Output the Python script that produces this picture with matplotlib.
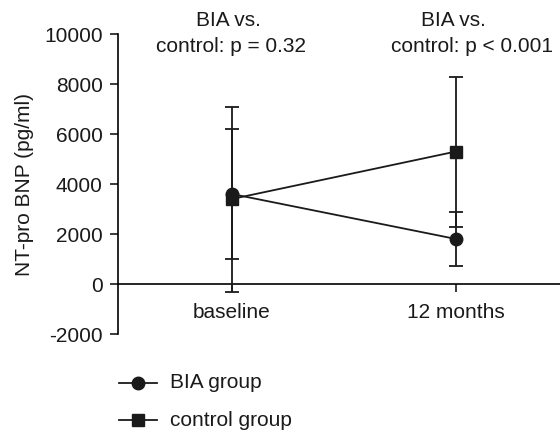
import matplotlib
matplotlib.use("Agg")
import matplotlib.pyplot as plt
from matplotlib.lines import Line2D

plt.rcParams['font.family'] = ['Liberation Sans', 'DejaVu Sans']

timepoints = ["baseline", "12 months"]
bia_mean = [3600, 1800]
bia_err = [2600, 1070]
control_mean = [3400, 5300]
control_err = [3700, 3000]
y_ticks = [-2000, 0, 2000, 4000, 6000, 8000, 10000]
annot_top = ["BIA vs.", "BIA vs."]
annot_bottom = ["control: p = 0.32", "control: p < 0.001"]
legend_labels = ["BIA group", "control group"]

FS = 15
C = '#1a1a1a'
W, H = 560, 430

fig = plt.figure(figsize=(5.6, 4.3), dpi=100)
ax = fig.add_axes([118/W, 96/H, 442/W, 300/H])

x = list(range(len(timepoints)))
lw = 1.3
ax.errorbar(x, control_mean, yerr=control_err, color=C, marker='s', ms=8.5,
            lw=lw, elinewidth=lw, capsize=5, capthick=lw, zorder=3)
ax.errorbar(x, bia_mean, yerr=bia_err, color=C, marker='o', ms=9,
            lw=lw, elinewidth=lw, capsize=5, capthick=lw, zorder=4)

ax.spines['top'].set_visible(False)
ax.spines['right'].set_visible(False)
ax.spines['bottom'].set_position(('data', 0))
ax.spines['left'].set_linewidth(1.2)
ax.spines['bottom'].set_linewidth(1.2)

ax.set_xlim(-114/224, 1 + 104/224)
ax.set_ylim(-2000, 10000)
ax.set_yticks(y_ticks)
ax.set_yticklabels([str(v) for v in y_ticks], fontsize=FS, color=C)
ax.set_xticks(x)
ax.set_xticklabels(timepoints, fontsize=FS, color=C)
ax.tick_params(axis='both', direction='out', length=5.5, width=1.2, color=C)
ax.tick_params(axis='y', pad=5.5)
ax.tick_params(axis='x', pad=8)
ax.set_ylabel("NT-pro BNP (pg/ml)", fontsize=FS, color=C)
ax.yaxis.set_label_coords(-(118 - 34) / 442, 0.5)

def fx(px):
    return px / W

def fy(py):
    return 1 - py / H

# annotations above
fig.text(fx(228), fy(20), annot_top[0], ha='center', va='center', fontsize=FS, color=C)
fig.text(fx(231), fy(47), annot_bottom[0], ha='center', va='center', fontsize=FS, color=C)
fig.text(fx(453), fy(20), annot_top[1], ha='center', va='center', fontsize=FS, color=C)
fig.text(fx(472), fy(47), annot_bottom[1], ha='center', va='center', fontsize=FS, color=C)

# legend drawn manually in figure coordinates
markers = ['o', 's']
sizes = [9, 8.5]
rows = [383, 420]
for lab, mk, ms, ry in zip(legend_labels, markers, sizes, rows):
    fig.add_artist(Line2D([fx(119), fx(157)], [fy(ry), fy(ry)], color=C, lw=lw,
                          transform=fig.transFigure))
    fig.add_artist(Line2D([fx(138)], [fy(ry)], color=C, marker=mk, ms=ms, lw=0,
                          transform=fig.transFigure))
    fig.text(fx(170), fy(ry), lab, ha='left', va='center', fontsize=FS, color=C)

fig.savefig("out.png", dpi=100)
